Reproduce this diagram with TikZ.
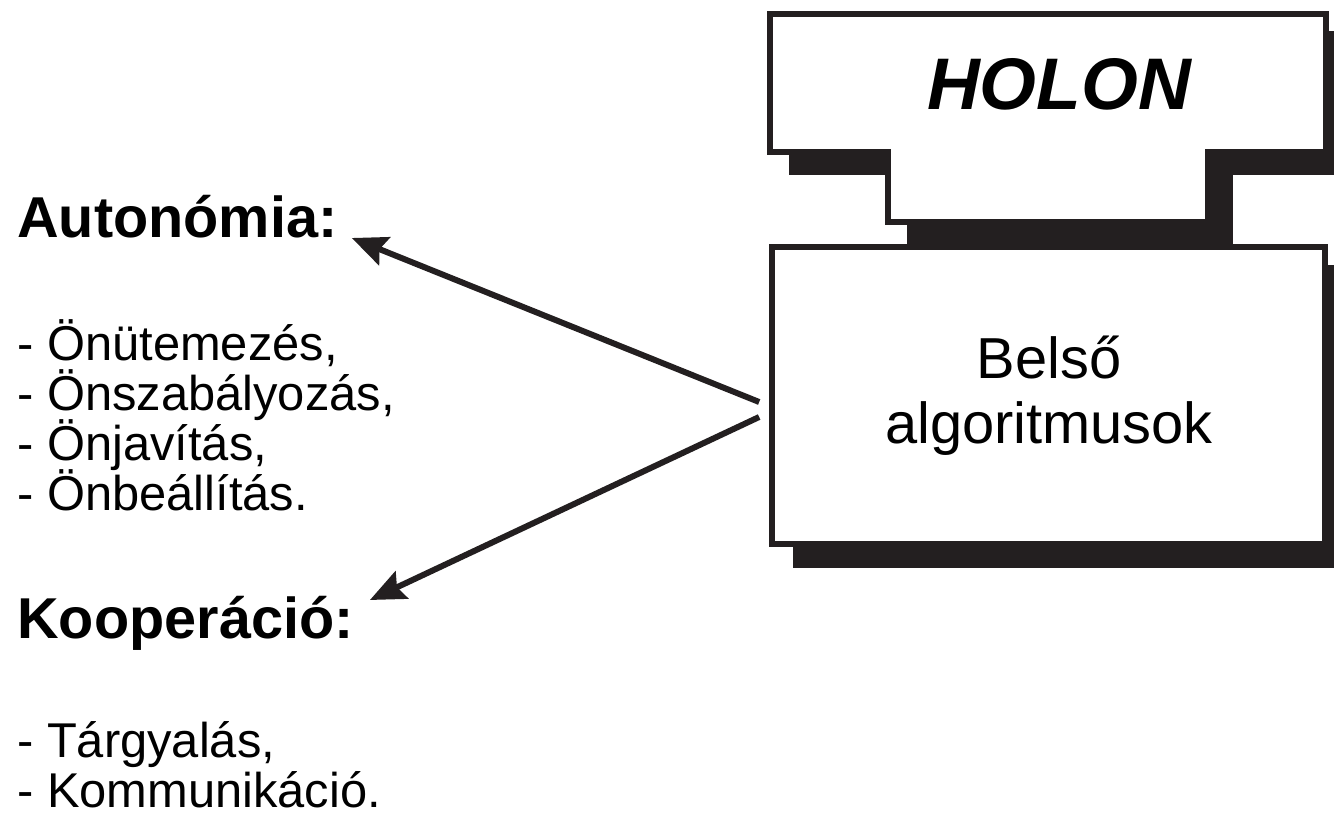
\documentclass[tikz,border=0pt]{standalone}
\usepackage{fontspec}
\setmainfont{Liberation Sans}
\usetikzlibrary{arrows.meta,calc,shadows}
\definecolor{ink}{HTML}{231F20}
\begin{document}
\begin{tikzpicture}[x=0.02cm,y=-0.02cm,
  frame/.style={draw=ink, line width=3.4pt, fill=white},
  shadowfill/.style={fill=ink, draw=ink, line width=3.4pt},
  head/.style={font=\bfseries\fontsize{32.8}{36}\selectfont, anchor=base west, inner sep=0},
  item/.style={font=\fontsize{27.8}{30}\selectfont, anchor=base west, inner sep=0},
  boxtext/.style={font=\fontsize{32.9}{37}\selectfont, anchor=base, inner sep=0},
  arr/.style={draw=ink, line width=3.4pt, -{Stealth[length=20pt,width=17pt,inset=3pt]}}]
\useasboundingbox (0,0) rectangle (1334,817);

% T-shaped title plate: shadow first, then the plate itself
\begin{scope}[shift={(22,20)}]
  \path[shadowfill] (769.5,14) -- (1326,14) -- (1326,152) -- (1208,152) -- (1208,222)
    -- (888,222) -- (888,152) -- (769.5,152) -- cycle;
\end{scope}
\path[frame] (769.5,14) -- (1326,14) -- (1326,152) -- (1208,152) -- (1208,222)
  -- (888,222) -- (888,152) -- (769.5,152) -- cycle;
\node[font=\bfseries\itshape\fontsize{41.6}{45}\selectfont, anchor=base, inner sep=0] (holon) at (1059,110) {HOLON};

% Body box with drop shadow
\node[frame, minimum width=314.6pt, minimum height=169.5pt, inner sep=0,
  drop shadow={shadow xshift=13.6pt, shadow yshift=-11.9pt, fill=ink, draw=ink, line width=3.4pt, opacity=1}]
  (alg) at (1048.5,395.5) {};
\node[boxtext] (alg1) at (1049,378) {Belső};
\node[boxtext] (alg2) at (1049,443) {algoritmusok};

% Left column
\node[head] (auto) at (17,238) {Autonómia:};
\node[item] (a1) at (17,360) {- Önütemezés,};
\node[item] (a2) at (17,410) {- Önszabályozás,};
\node[item] (a3) at (17,460) {- Önjavítás,};
\node[item] (a4) at (17,510) {- Önbeállítás.};

\node[head] (koop) at (17,638) {Kooperáció:};
\node[item] (k1) at (17,757) {- Tárgyalás,};
\node[item] (k2) at (17,807) {- Kommunikáció.};

% Arrows from the body box to the two headings
\coordinate (s1) at ($(alg.west)+(-10,6.5)$);
\coordinate (s2) at ($(alg.west)+(-10,21.5)$);
\draw[arr] (s1) -- ($(auto.base east)+(14,0)$);
\draw[arr] (s2) -- ($(koop.base east)+(16,-38)$);
\end{tikzpicture}
\end{document}
